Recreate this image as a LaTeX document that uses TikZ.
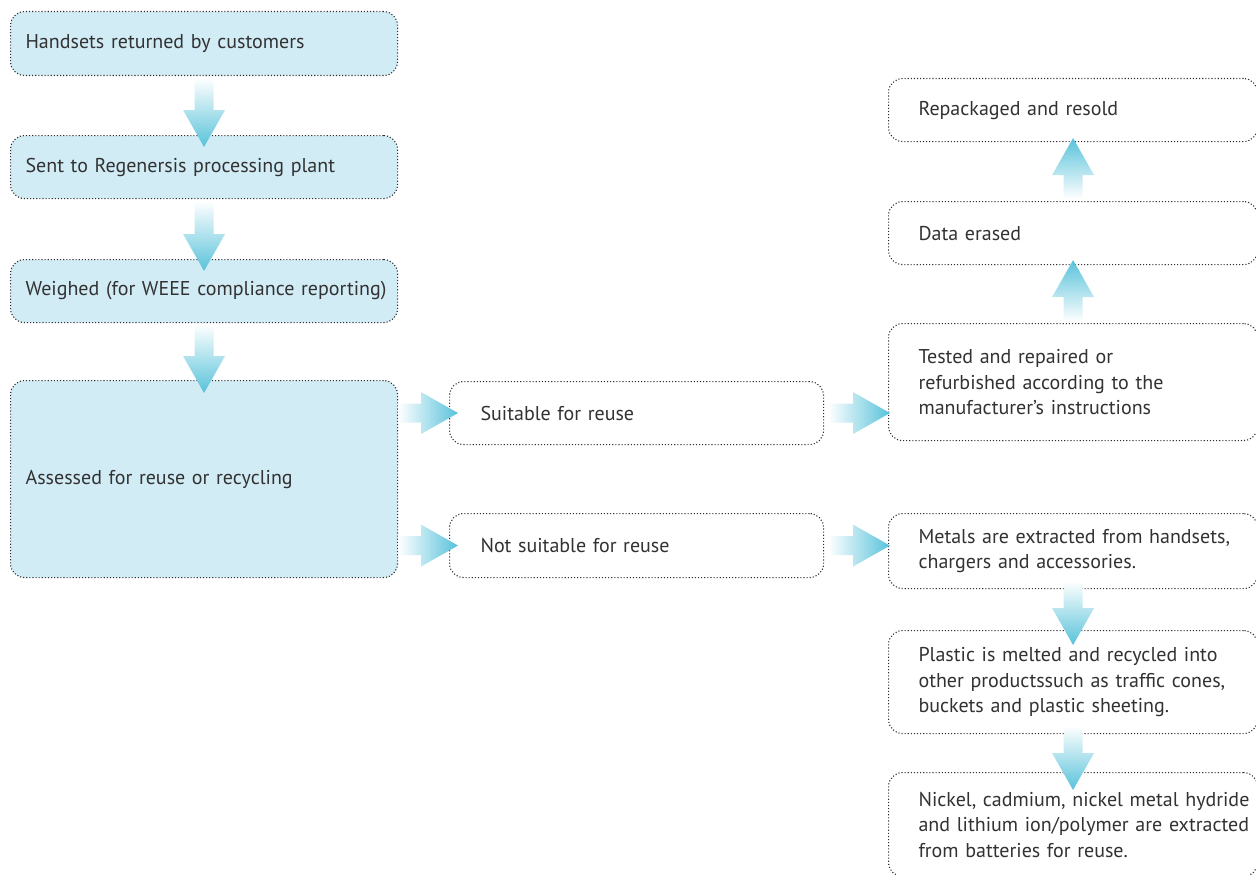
\documentclass[tikz,border=0pt]{standalone}
\usepackage{fontspec}
\setmainfont{PT Sans}
\usetikzlibrary{calc}
\hyphenpenalty=10000
\exhyphenpenalty=10000

\definecolor{boxfill}{RGB}{210,236,246}
\definecolor{arrowcyan}{RGB}{88,194,218}
\definecolor{textgrey}{RGB}{50,50,50}
\definecolor{dotgrey}{RGB}{45,45,45}

% one unbreakable text line
\newcommand\oneline[1]{\mbox{#1}}

% Shaded block arrows: #1 = start of the shaft, #2 = tip
\newcommand\blockdown[2]{%
  \shade[top color=white, bottom color=arrowcyan]
    let \p1=#1, \p2=#2 in
    (\x1-9.5pt,\y1) -- (\x1+9.5pt,\y1) -- (\x1+9.5pt,\y2+37pt) -- (\x1+21pt,\y2+37pt)
    -- (\x1,\y2) -- (\x1-21pt,\y2+37pt) -- (\x1-9.5pt,\y2+37pt) -- cycle;}
\newcommand\blockup[2]{%
  \shade[bottom color=white, top color=arrowcyan]
    let \p1=#1, \p2=#2 in
    (\x1-9.5pt,\y1) -- (\x1+9.5pt,\y1) -- (\x1+9.5pt,\y2-37pt) -- (\x1+21pt,\y2-37pt)
    -- (\x1,\y2) -- (\x1-21pt,\y2-37pt) -- (\x1-9.5pt,\y2-37pt) -- cycle;}
\newcommand\blockright[2]{%
  \shade[left color=white, right color=arrowcyan]
    let \p1=#1, \p2=#2 in
    (\x1,\y1+9.5pt) -- (\x1,\y1-9.5pt) -- (\x2-37pt,\y1-9.5pt) -- (\x2-37pt,\y1-21pt)
    -- (\x2,\y1) -- (\x2-37pt,\y1+21pt) -- (\x2-37pt,\y1+9.5pt) -- cycle;}

\begin{document}
\begin{tikzpicture}[x=1pt, y=-1pt,
  box/.style={draw=dotgrey, dotted, line width=1.1pt, rounded corners=14pt,
    anchor=north west, inner ysep=0pt, align=left, text=textgrey,
    font=\fontsize{20}{25.5}\selectfont},
  leftbox/.style={box, fill=boxfill, inner xsep=15pt, text width=357pt},
  midbox/.style={box, fill=white, inner xsep=31pt, text width=312pt},
  rightbox/.style={box, fill=white, inner xsep=30pt, text width=309pt}]

\useasboundingbox (0,0) rectangle (1256,875);
\clip (0,0) rectangle (1256,875);

% left column
\node[leftbox, minimum height=64pt] (hand) at (10,11) {Handsets returned by customers};
\node[leftbox, minimum height=63pt] (sent) at (10,135) {Sent to Regenersis processing plant};
\node[leftbox, minimum height=63pt] (weigh) at (10,259) {\oneline{Weighed (for WEEE compliance reporting)}};
\node[leftbox, minimum height=197pt] (assess) at (10,380) {Assessed for reuse or recycling};

% middle column
\node[midbox, minimum height=63pt] (suit) at (449,381) {Suitable for reuse};
\node[midbox, minimum height=64pt] (notsuit) at (449,513) {Not suitable for reuse};

% right column
\node[rightbox, minimum height=63pt] (repack) at (888,78) {Repackaged and resold};
\node[rightbox, minimum height=63pt] (erase) at (888,201) {Data erased};
\node[rightbox, minimum height=117pt] (tested) at (888,323)
  {\oneline{Tested and repaired or}\\\oneline{refurbished according to the}\\\oneline{manufacturer’s instructions}};
\node[rightbox, minimum height=75pt] (metals) at (888,513)
  {\oneline{Metals are extracted from handsets,}\\\oneline{chargers and accessories.}};
\node[rightbox, minimum height=103pt] (plastic) at (888,630)
  {\oneline{Plastic is melted and recycled into}\\\oneline{other productssuch as traffic cones,}\\\oneline{buckets and plastic sheeting.}};
\node[rightbox, minimum height=104pt] (nickel) at (888,772)
  {\oneline{Nickel, cadmium, nickel metal hydride}\\\oneline{and lithium ion/polymer are extracted}\\\oneline{from batteries for reuse.}};

% connectors
\blockdown{($(hand.south)+(0,2)$)}{($(sent.north)+(0,12)$)}
\blockdown{($(sent.south)+(0,2)$)}{($(weigh.north)+(0,12)$)}
\blockdown{($(weigh.south)+(0,1)$)}{($(assess.north)+(0,13)$)}

\blockright{(assess.east |- suit.west)}{($(suit.west)+(9,0)$)}
\blockright{(assess.east |- notsuit.west)}{($(notsuit.west)+(9,0)$)}
\blockright{($(suit.east)+(4,0)$)}{($(tested.west |- suit.west)+(2,0)$)}
\blockright{($(notsuit.east)+(4,0)$)}{($(metals.west |- notsuit.west)+(2,0)$)}

\blockup{($(tested.north)+(0,-1)$)}{($(erase.south)+(0,-5)$)}
\blockup{($(erase.north)+(0,-2)$)}{($(repack.south)+(0,-4)$)}

\blockdown{($(metals.south)+(0,-8)$)}{($(plastic.north)+(0,15)$)}
\blockdown{($(plastic.south)+(0,-8)$)}{($(nickel.north)+(0,18)$)}
\end{tikzpicture}
\end{document}
